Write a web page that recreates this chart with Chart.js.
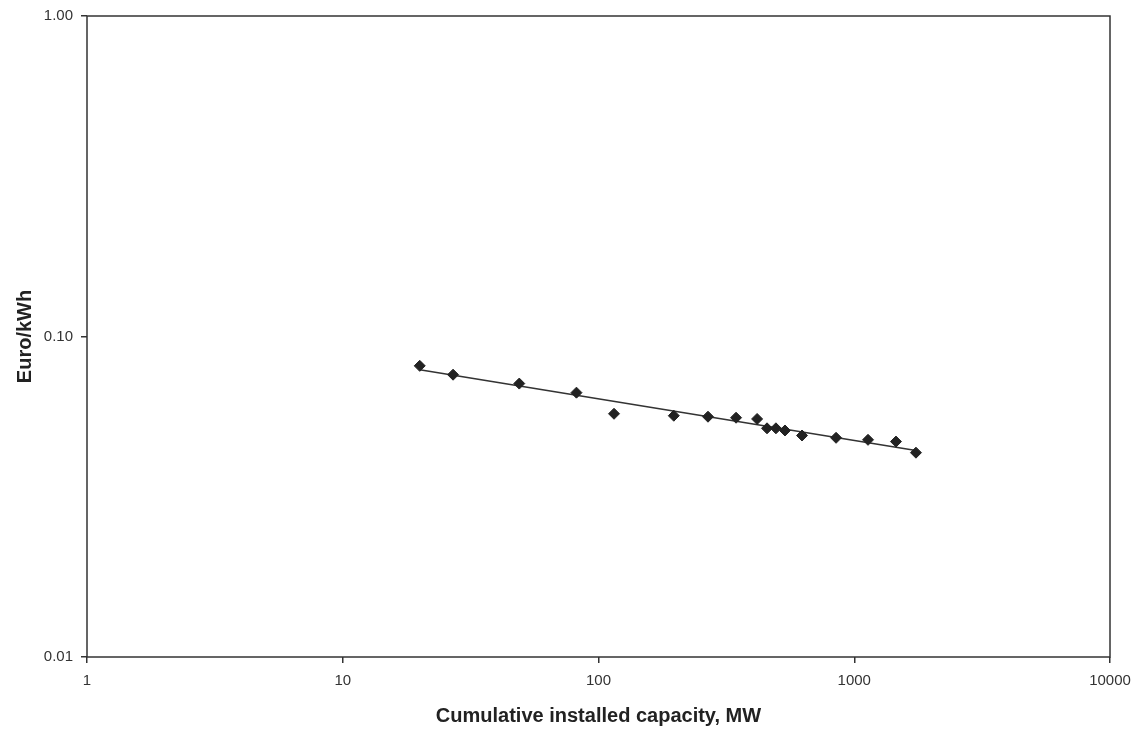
<!DOCTYPE html>
<html>
<head>
<meta charset="utf-8">
<script src="https://cdn.jsdelivr.net/npm/chart.js@4/dist/chart.umd.min.js"></script>
<style>
  html, body { margin: 0; padding: 0; background: #fff; }
  #wrap { width: 1138px; height: 729px; position: relative; }
</style>
</head>
<body>
<div id="wrap"><canvas id="chart-learning-curve"></canvas></div>
<script>
// cumulative installed capacity (MW) and electricity cost (Euro/kWh)
const capacity = [20, 27, 49, 82, 115, 197, 268, 345, 417, 456, 494, 536, 625, 849, 1132, 1456, 1743];
const price = [0.081, 0.076, 0.0713, 0.0668, 0.0574, 0.0566, 0.0562, 0.0558, 0.0553, 0.0517, 0.0517, 0.0509, 0.0491, 0.0483, 0.0476, 0.047, 0.0434];

const xTicks = [1, 10, 100, 1000, 10000];
const yTicks = [0.01, 0.1, 1];
const yTickLabels = ["0.01", "0.10", "1.00"];

// power trendline (least squares in log-log space)
const powerFit = (xs, ys) => {
    const lx = xs.map(Math.log10);
    const ly = ys.map(Math.log10);
    const n = lx.length;
    const mx = lx.reduce((a, b) => a + b, 0) / n;
    const my = ly.reduce((a, b) => a + b, 0) / n;
    let sxy = 0, sxx = 0;
    for (let i = 0; i < n; i++) {
        sxy += (lx[i] - mx) * (ly[i] - my);
        sxx += (lx[i] - mx) * (lx[i] - mx);
    }
    const b = sxy / sxx;
    const a = my - b * mx;
    return (x) => Math.pow(10, a + b * Math.log10(x));
};
const fit = powerFit(capacity, price);
const xMin = Math.min(...capacity);
const xMax = Math.max(...capacity);

const ink = "#333";
const tickFont = { family: "'Liberation Sans', Arial, sans-serif", size: 15 };
const titleFont = { family: "'Liberation Sans', Arial, sans-serif", size: 20, weight: "bold" };

const frame = {
    id: "frame",
    afterDatasetsDraw(chart) {
        const { ctx, chartArea } = chart;
        ctx.save();
        ctx.strokeStyle = ink;
        ctx.lineWidth = 1.5;
        ctx.strokeRect(chartArea.left, chartArea.top, chartArea.right - chartArea.left, chartArea.bottom - chartArea.top);
        ctx.restore();
    },
};

const chartLearningCurve = new Chart(document.getElementById("chart-learning-curve"), {
    type: "scatter",
    data: {
        datasets: [
            {
                label: "Trend",
                type: "line",
                data: [
                    { x: xMin, y: fit(xMin) },
                    { x: xMax, y: fit(xMax) },
                ],
                borderColor: "#333",
                borderWidth: 1.6,
                pointRadius: 0,
                fill: false,
                order: 2,
            },
            {
                label: "Cost",
                data: capacity.map((c, i) => ({ x: c, y: price[i] })),
                pointStyle: "rectRot",
                pointRadius: 5.5,
                backgroundColor: "#222",
                borderColor: "#222",
                borderWidth: 1,
                order: 1,
            },
        ],
    },
    options: {
        responsive: true,
        maintainAspectRatio: false,
        animation: false,
        layout: {
            padding: { left: 0, top: 16, right: 28, bottom: 0 },
        },
        plugins: {
            legend: { display: false },
            tooltip: { enabled: false },
        },
        scales: {
            x: {
                type: "logarithmic",
                min: 1,
                max: 10000,
                afterBuildTicks: (scale) => {
                    scale.ticks = xTicks.map((v) => ({ value: v }));
                },
                afterFit: (scale) => {
                    scale.height = 72;
                    scale.paddingLeft = 0;
                    scale.paddingRight = 0;
                },
                ticks: {
                    color: ink,
                    font: tickFont,
                    padding: 9,
                    maxRotation: 0,
                    autoSkip: false,
                    callback: (v) => String(v),
                },
                grid: {
                    drawOnChartArea: false,
                    drawTicks: true,
                    tickLength: 6,
                    color: ink,
                    lineWidth: 1.5,
                },
                border: { display: false },
                title: {
                    display: true,
                    text: "Cumulative installed capacity, MW",
                    color: "#222",
                    font: titleFont,
                    padding: { top: 0, bottom: 1 },
                },
            },
            y: {
                type: "logarithmic",
                min: 0.01,
                max: 1,
                afterBuildTicks: (scale) => {
                    scale.ticks = yTicks.map((v) => ({ value: v }));
                },
                afterFit: (scale) => {
                    scale.width = 87;
                    scale.paddingTop = 0;
                    scale.paddingBottom = 0;
                },
                ticks: {
                    color: ink,
                    font: tickFont,
                    padding: 8,
                    autoSkip: false,
                    callback: (v) => yTickLabels[yTicks.indexOf(v)] ?? "",
                },
                grid: {
                    drawOnChartArea: false,
                    drawTicks: true,
                    tickLength: 6,
                    color: ink,
                    lineWidth: 1.5,
                },
                border: { display: false },
                title: {
                    display: true,
                    text: "Euro/kWh",
                    color: "#222",
                    font: titleFont,
                    padding: { top: 13, bottom: 0 },
                },
            },
        },
    },
    plugins: [frame],
});

window.chartLearningCurve = chartLearningCurve;
</script>
</body>
</html>
